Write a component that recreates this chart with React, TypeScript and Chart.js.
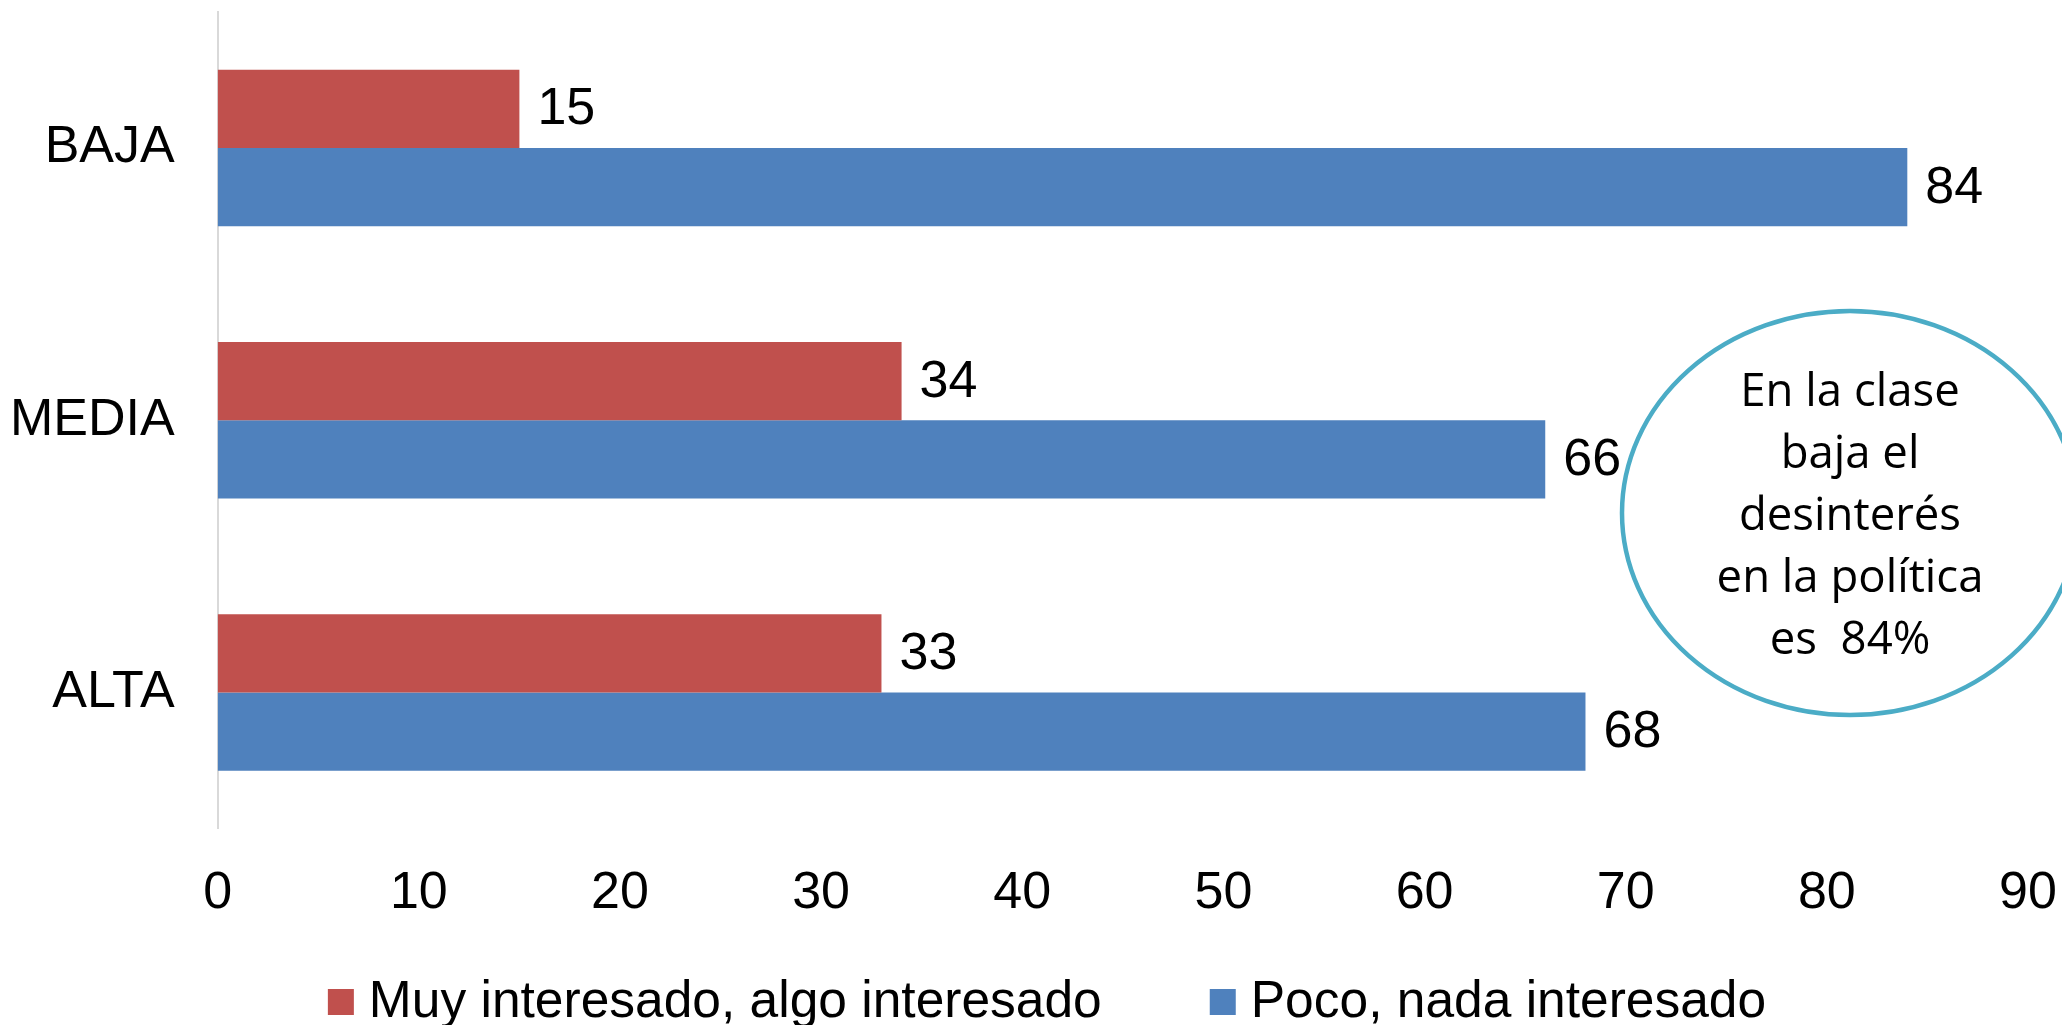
import React, { useEffect, useRef } from "react";
import { Chart, registerables } from "chart.js";

Chart.register(...registerables);

const categories = ["BAJA", "MEDIA", "ALTA"];
const seriesLabels = ["Muy interesado, algo interesado", "Poco, nada interesado"];
const interesadoValues = [15, 34, 33];
const pocoValues = [84, 66, 68];
const xTickValues = [0, 10, 20, 30, 40, 50, 60, 70, 80, 90];
const noteLines = ["En la clase", "baja el", "desinterés", "en la política", "es  84%"];

const RED = "#C0504D";
const BLUE = "#4F81BD";
const NOTE_COLOR = "#4BACC6";
const FONT = "'Liberation Sans', Arial, sans-serif";

const valueLabelsPlugin = {
  id: "valueLabels",
  afterDatasetsDraw(chart: any) {
    const ctx = chart.ctx;
    ctx.save();
    ctx.font = `52px ${FONT}`;
    ctx.fillStyle = "#000";
    ctx.textAlign = "left";
    ctx.textBaseline = "middle";
    chart.data.datasets.forEach((ds: any, di: number) => {
      const meta = chart.getDatasetMeta(di);
      meta.data.forEach((bar: any, i: number) => {
        ctx.fillText(String(ds.data[i]), bar.x + 18, bar.y + 1);
      });
    });
    ctx.restore();
  },
};

const noteEllipsePlugin = {
  id: "noteEllipse",
  afterDraw(chart: any) {
    const ctx = chart.ctx;
    const cx = 1850;
    const cy = 513;
    ctx.save();
    ctx.beginPath();
    ctx.ellipse(cx, cy, 228, 202, 0, 0, Math.PI * 2);
    ctx.lineWidth = 4.5;
    ctx.strokeStyle = NOTE_COLOR;
    ctx.stroke();
    ctx.font = `45.5px 'Open Sans', sans-serif`;
    ctx.fillStyle = "#000";
    ctx.textAlign = "center";
    ctx.textBaseline = "alphabetic";
    const lineH = 62;
    const firstBaseline = 530 - 2 * lineH;
    noteLines.forEach((line, i) => {
      ctx.fillText(line, cx, firstBaseline + i * lineH);
    });
    ctx.restore();
  },
};

const customLegendPlugin = {
  id: "customLegend",
  afterDraw(chart: any) {
    const ctx = chart.ctx;
    ctx.save();
    ctx.font = `51.5px ${FONT}`;
    const box = 26;
    const boxGap = 15;
    const itemGap = 108;
    const items = chart.data.datasets.map((ds: any) => ({
      label: ds.label,
      color: ds.backgroundColor,
      w: ctx.measureText(ds.label).width,
    }));
    const total =
      items.reduce((s: number, it: any) => s + box + boxGap + it.w, 0) +
      itemGap * (items.length - 1);
    let x = 1047 - total / 2;
    const baseline = chart.height - 8;
    const boxTop = baseline - 28;
    items.forEach((it: any) => {
      ctx.fillStyle = it.color;
      ctx.fillRect(x, boxTop, box, box);
      ctx.fillStyle = "#000";
      ctx.textAlign = "left";
      ctx.textBaseline = "alphabetic";
      ctx.fillText(it.label, x + box + boxGap, baseline);
      x += box + boxGap + it.w + itemGap;
    });
    ctx.restore();
  },
};

export default function App() {
  const canvasRef = useRef<HTMLCanvasElement | null>(null);

  useEffect(() => {
    if (!canvasRef.current) return;
    Chart.defaults.font.family = FONT;
    const chart = new Chart(canvasRef.current, {
      type: "bar",
      data: {
        labels: categories,
        datasets: [
          {
            label: seriesLabels[0],
            data: interesadoValues,
            backgroundColor: RED,
            borderWidth: 0,
            categoryPercentage: 0.575,
            barPercentage: 1.0,
          },
          {
            label: seriesLabels[1],
            data: pocoValues,
            backgroundColor: BLUE,
            borderWidth: 0,
            categoryPercentage: 0.575,
            barPercentage: 1.0,
          },
        ],
      },
      options: {
        indexAxis: "y",
        responsive: false,
        animation: false,
        layout: { padding: { left: 10, right: 34, top: 12, bottom: 100 } },
        plugins: {
          legend: { display: false },
          tooltip: { enabled: false },
        },
        scales: {
          x: {
            type: "linear",
            min: 0,
            max: 90,
            afterBuildTicks(scale: any) {
              scale.ticks = xTickValues.map((v) => ({ value: v }));
            },
            ticks: {
              font: { size: 52, family: FONT, lineHeight: 1.2 },
              color: "#000",
              padding: 0,
              maxRotation: 0,
              autoSkip: false,
            },
            grid: { display: false, drawTicks: true, tickLength: 34 },
            border: { display: false },
          },
          y: {
            type: "category",
            ticks: {
              font: { size: 52, family: FONT, lineHeight: 0.3 },
              color: "#000",
              padding: 0,
            },
            grid: { display: false, drawTicks: true, tickLength: 43 },
            border: { display: true, color: "#D9D9D9", width: 2 },
          },
        },
      },
      plugins: [valueLabelsPlugin, noteEllipsePlugin, customLegendPlugin],
    } as any);
    return () => chart.destroy();
  }, []);

  return (
    <div style={{ position: "absolute", left: 0, top: 0, width: 2062, height: 1025, background: "#fff" }}>
      <canvas ref={canvasRef} width={2062} height={1025} style={{ display: "block" }} />
    </div>
  );
}
